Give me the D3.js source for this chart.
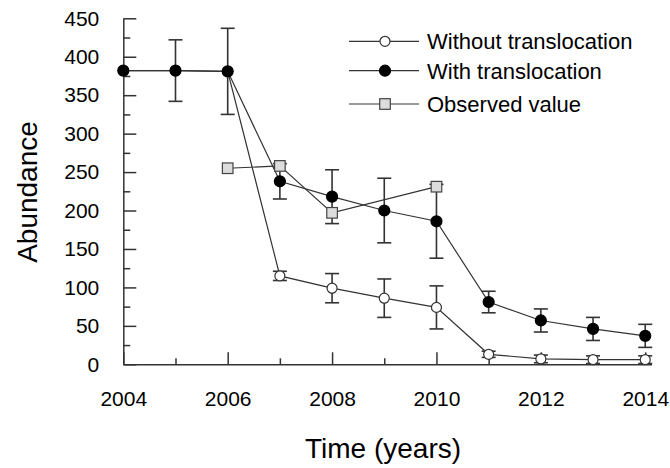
<!DOCTYPE html>
<html>
<head>
<meta charset="utf-8">
<script src="https://cdn.jsdelivr.net/npm/d3@7/dist/d3.min.js"></script>
<style>
body { margin: 0; background: #fff; }
text { font-family: "Liberation Sans", Arial, sans-serif; fill: #000; }
</style>
</head>
<body>
<svg width="670" height="468"></svg>
<script>
// data
var years = [2004, 2005, 2006, 2007, 2008, 2009, 2010, 2011, 2012, 2013, 2014]
var withoutVals = [382, 382, 381, 115, 99, 86, 74, 13, 7, 6, 6]
var withoutErr = [0, 0, 0, 6, 19, 25, 28, 4, 5, 5, 5]
var withVals = [382, 382, 381, 238, 218, 200, 186, 81, 57, 46, 37]
var withErr = [0, 40, 56, 23, 35, 42, 48, 14, 15, 15, 15]
var obsYears = [2006, 2007, 2008, 2010]
var obsVals = [255, 258, 197, 231]
var yTicks = [0, 50, 100, 150, 200, 250, 300, 350, 400, 450]
var xTicks = [2004, 2006, 2008, 2010, 2012, 2014]
var legendLabels = ["Without translocation", "With translocation", "Observed value"]

var lineColor = "#333"
var svg = d3.select("svg")

var x = d3.scaleLinear().domain([2004, 2014.12]).range([123.3, 651.5])
var y = d3.scaleLinear().domain([0, 450]).range([364.3, 18.3])

// minor ticks
svg.append("g").attr("transform", "translate(0,364.3)")
	.call(d3.axisBottom(x).tickValues(d3.range(2005, 2015, 2)).tickSize(-6).tickFormat(""))
	.call(function(g) { g.select(".domain").remove() })
svg.append("g").attr("transform", "translate(123.3,0)")
	.call(d3.axisLeft(y).tickValues(d3.range(25, 450, 50)).tickSize(-7).tickFormat(""))
	.call(function(g) { g.select(".domain").remove() })

svg.append("g").attr("transform", "translate(0,364.3)")
	.call(d3.axisBottom(x).tickValues(xTicks).tickSize(-12).tickSizeOuter(0)
		.tickPadding(27).tickFormat(d3.format("d")))
svg.append("g").attr("transform", "translate(123.3,0)")
	.call(d3.axisLeft(y).tickValues(yTicks).tickSize(-13).tickSizeOuter(0).tickPadding(24))

svg.selectAll(".tick line, .domain").attr("stroke", lineColor).attr("stroke-width", 1.5)
svg.selectAll(".tick text").attr("font-size", 21).attr("font-family", "Liberation Sans, Arial, sans-serif").attr("fill", "#000")

// axis titles
svg.append("text").attr("x", 383).attr("y", 458).attr("text-anchor", "middle")
	.attr("font-size", 28).text("Time (years)")
svg.append("text").attr("transform", "translate(37,192) rotate(-90)")
	.attr("text-anchor", "middle").attr("font-size", 28).text("Abundance")

function rows(vals, errs) {
	return years.map(function(yr, i) { return { x: yr, v: vals[i], e: errs[i] } })
}
var withoutData = rows(withoutVals, withoutErr)
var withData = rows(withVals, withErr)
var obsData = obsYears.map(function(yr, i) { return { x: yr, v: obsVals[i], e: 0 } })

var line = d3.line().x(function(d) { return x(d.x) }).y(function(d) { return y(d.v) })

function drawSeries(data, kind) {
	var g = svg.append("g")
	g.append("path").datum(data).attr("d", line).attr("fill", "none")
		.attr("stroke", lineColor).attr("stroke-width", 1.2)
	var eb = g.selectAll(".eb").data(data.filter(function(d) { return d.e > 0 })).enter().append("g")
	eb.append("line").attr("x1", function(d) { return x(d.x) }).attr("x2", function(d) { return x(d.x) })
		.attr("y1", function(d) { return y(d.v - d.e) }).attr("y2", function(d) { return y(d.v + d.e) })
	eb.append("line").attr("x1", function(d) { return x(d.x) - 7 }).attr("x2", function(d) { return x(d.x) + 7 })
		.attr("y1", function(d) { return y(d.v + d.e) }).attr("y2", function(d) { return y(d.v + d.e) })
	eb.append("line").attr("x1", function(d) { return x(d.x) - 7 }).attr("x2", function(d) { return x(d.x) + 7 })
		.attr("y1", function(d) { return y(d.v - d.e) }).attr("y2", function(d) { return y(d.v - d.e) })
	eb.selectAll("line").attr("stroke", lineColor).attr("stroke-width", 1.6)
	drawMarkers(g, data, kind)
}

function drawMarkers(g, data, kind) {
	if (kind == "square") {
		g.selectAll("rect.m").data(data).enter().append("rect").attr("class", "m")
			.attr("x", function(d) { return x(d.x) - 5.3 }).attr("y", function(d) { return y(d.v) - 5.3 })
			.attr("width", 10.6).attr("height", 10.6)
			.attr("fill", "#dcdcdc").attr("stroke", "#444").attr("stroke-width", 1.2)
	} else {
		g.selectAll("circle.m").data(data).enter().append("circle").attr("class", "m")
			.attr("cx", function(d) { return x(d.x) }).attr("cy", function(d) { return y(d.v) })
			.attr("r", kind == "filled" ? 5.5 : 5)
			.attr("fill", kind == "filled" ? "#000" : "#fff")
			.attr("stroke", kind == "filled" ? "#000" : "#333").attr("stroke-width", 1.2)
	}
}

drawSeries(withoutData, "open")
drawSeries(withData, "filled")
drawSeries(obsData, "square")

// legend
var legendY = [41.3, 70.7, 104]
var kinds = ["open", "filled", "square"]
legendLabels.forEach(function(lab, i) {
	var g = svg.append("g")
	g.append("line").attr("x1", 349).attr("x2", 419).attr("y1", legendY[i]).attr("y2", legendY[i])
		.attr("stroke", lineColor).attr("stroke-width", 1.2)
	drawMarkers(g, [{ x: x.invert(385), v: y.invert(legendY[i]) }], kinds[i])
	g.append("text").attr("x", 427).attr("y", legendY[i] + 8).attr("font-size", 22).text(lab)
})
</script>
</body>
</html>
